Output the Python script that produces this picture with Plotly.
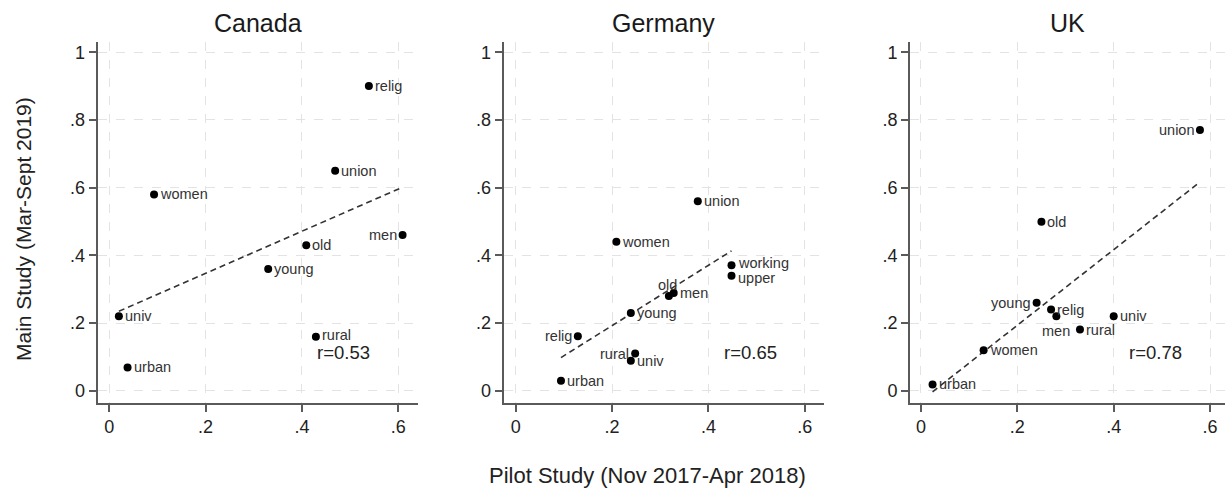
import numpy as np
import plotly.graph_objects as go

# ---------------- data ----------------
countries = ["Canada", "Germany", "UK"]

canada_labels = ["relig", "union", "women", "men", "old", "young", "univ", "rural", "urban"]
canada_pilot = [0.539, 0.469, 0.093, 0.609, 0.409, 0.330, 0.020, 0.429, 0.038]
canada_main = [0.900, 0.650, 0.580, 0.460, 0.430, 0.360, 0.220, 0.160, 0.069]

germany_labels = ["union", "women", "working", "upper", "old", "men", "young", "relig", "rural", "univ", "urban"]
germany_pilot = [0.378, 0.209, 0.448, 0.448, 0.318, 0.328, 0.239, 0.129, 0.248, 0.239, 0.094]
germany_main = [0.560, 0.440, 0.371, 0.340, 0.280, 0.289, 0.230, 0.161, 0.110, 0.089, 0.030]

uk_labels = ["union", "old", "young", "relig", "men", "rural", "univ", "women", "urban"]
uk_pilot = [0.579, 0.250, 0.240, 0.270, 0.281, 0.330, 0.400, 0.130, 0.024]
uk_main = [0.770, 0.499, 0.260, 0.240, 0.220, 0.181, 0.220, 0.120, 0.019]

r_labels = ["r=0.53", "r=0.65", "r=0.78"]

x_tickvals = [0, 0.2, 0.4, 0.6]
x_ticktext = ["0", ".2", ".4", ".6"]
y_tickvals = [0, 0.2, 0.4, 0.6, 0.8, 1.0]
y_ticktext = ["0", ".2", ".4", ".6", ".8", "1"]

x_title = "Pilot Study (Nov 2017-Apr 2018)"
y_title = "Main Study (Mar-Sept 2019)"

# ---------------- styling ----------------
W, H = 1225, 489
FONT = "Liberation Sans, Arial, sans-serif"

# label placement (style, not data): (anchor, x shift px, y shift px)
label_pos = {
    "Canada": {"men": ("l", 0, 0), "rural": ("r", 0, 2)},
    "Germany": {"relig": ("l", 0, 0), "rural": ("l", 0, 0), "old": ("t", -1, 0),
                "working": ("r", 0, 2), "upper": ("r", 0, -2)},
    "UK": {"union": ("l", 0, 0), "young": ("l", 0, 0), "men": ("b", 0, 0)},
}

panels = [
    (canada_labels, canada_pilot, canada_main),
    (germany_labels, germany_pilot, germany_main),
    (uk_labels, uk_pilot, uk_main),
]

# pixel layout of plot areas
x_domains_px = [(97.7, 418.0), (503.7, 824.0), (910.0, 1225.0)]
x_ranges = [[-0.024, 0.641], [-0.0249, 0.64], [-0.0228, 0.631]]
y_dom = [1 - 402.7 / H, 1 - 41.7 / H]
y_range = [-0.035, 1.031]

fig = go.Figure()
layout_axes = {}

for i, (name, (labs, px, py)) in enumerate(zip(countries, panels)):
    sfx = "" if i == 0 else str(i + 1)
    xa, ya = "x" + sfx, "y" + sfx
    px_arr = np.array(px)
    py_arr = np.array(py)

    # fitted line (OLS) over the data range
    slope, intercept = np.polyfit(px_arr, py_arr, 1)
    fx = np.array([px_arr.min(), px_arr.max()])
    fy = intercept + slope * fx
    fig.add_trace(go.Scatter(
        x=fx, y=fy, mode="lines", xaxis=xa, yaxis=ya,
        line=dict(color="#333333", width=1.6, dash="6px,4px"),
        hoverinfo="skip", showlegend=False))

    fig.add_trace(go.Scatter(
        x=px, y=py, mode="markers", xaxis=xa, yaxis=ya,
        marker=dict(color="black", size=8),
        showlegend=False))

    # marker labels
    for lab, xv, yv in zip(labs, px, py):
        anc, dx, dy = label_pos[name].get(lab, ("r", 0, 0))
        if anc == "r":
            kw = dict(xanchor="left", yanchor="middle", xshift=5 + dx, yshift=dy)
        elif anc == "l":
            kw = dict(xanchor="right", yanchor="middle", xshift=-5 + dx, yshift=dy)
        elif anc == "t":
            kw = dict(xanchor="center", yanchor="bottom", xshift=dx, yshift=2 + dy)
        else:
            kw = dict(xanchor="center", yanchor="top", xshift=dx, yshift=-6 + dy)
        fig.add_annotation(
            text=lab, xref=xa, yref=ya, x=xv, y=yv, showarrow=False,
            font=dict(family=FONT, size=14.5, color="#333333"),
            borderpad=0, **kw)

    d0, d1 = x_domains_px[i]
    axis_common = dict(
        showline=True, linecolor="#5a5a5a", linewidth=2,
        ticks="outside", ticklen=7, tickcolor="#5a5a5a", tickwidth=1.5,
        showgrid=True, gridcolor="#e3e3e3", gridwidth=1, griddash="dash",
        zeroline=False, mirror=False,
        tickfont=dict(family=FONT, size=18, color="#222222"),
    )
    layout_axes["xaxis" + sfx] = dict(
        axis_common, domain=[d0 / W, d1 / W], range=x_ranges[i],
        tickvals=x_tickvals, ticktext=x_ticktext, anchor=ya)
    layout_axes["yaxis" + sfx] = dict(
        axis_common, domain=y_dom, range=y_range,
        tickvals=y_tickvals, ticktext=y_ticktext, anchor=xa)

    # panel title
    fig.add_annotation(
        text=name, xref="paper", yref="paper",
        x=(d0 + d1) / 2 / W, y=1 - 23 / H, xanchor="center", yanchor="middle",
        showarrow=False, font=dict(family=FONT, size=25, color="#1a1a1a"))

    # r annotation
    fig.add_annotation(
        text=r_labels[i], xref=xa, yref=ya, x=0.43, y=0.112,
        xanchor="left", yanchor="middle", showarrow=False, borderpad=0,
        font=dict(family=FONT, size=18.5, color="#222222"))

# axis titles
fig.add_annotation(
    text=x_title, xref="paper", yref="paper", x=647 / W, y=1 - 475 / H,
    xanchor="center", yanchor="middle", showarrow=False,
    font=dict(family=FONT, size=22, color="#222222"))
fig.add_annotation(
    text=y_title, xref="paper", yref="paper", x=23 / W, y=1 - 229 / H,
    xanchor="center", yanchor="middle", showarrow=False, textangle=-90,
    font=dict(family=FONT, size=21, color="#222222"))

fig.update_layout(
    width=W, height=H,
    margin=dict(l=0, r=0, t=0, b=0),
    paper_bgcolor="white", plot_bgcolor="white",
    showlegend=False,
    **layout_axes,
)

fig.write_html("out.html")
